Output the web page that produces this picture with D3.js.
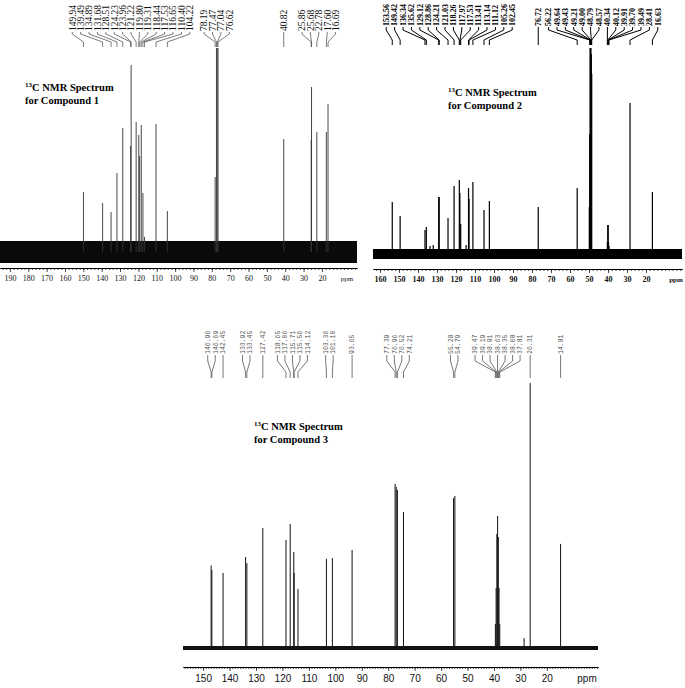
<!DOCTYPE html>
<html>
<head>
<meta charset="utf-8">
<script src="https://cdn.jsdelivr.net/npm/d3@7"></script>
<style>
body { margin: 0; background: #fff; }
svg { display: block; }
</style>
</head>
<body>
<svg id="chart" width="685" height="688"></svg>
<script>
// ---- данные: спектр 1 ----
const ticks1 = [190, 180, 170, 160, 150, 140, 130, 120, 110, 100, 90, 80, 70, 60, 50, 40, 30, 20];
const labels1 = ["149.94", "139.49", "134.89", "131.68", "128.51", "124.23", "123.96", "121.22", "119.80",
  "119.31", "118.44", "117.53", "116.65", "110.40", "104.22", "78.19", "77.47", "77.04", "76.62",
  "40.82", "25.86", "25.68", "22.78", "17.60", "16.69"];
const shifts1 = [149.94, 139.49, 134.89, 131.68, 128.51, 124.23, 123.96, 121.22, 119.80, 119.31, 118.44,
  117.53, 116.65, 110.40, 104.22, 78.19, 77.47, 77.04, 76.62, 40.82, 25.86, 25.68, 22.78, 17.60, 16.69];
const heights1 = [30, 24.5, 20, 39.5, 62, 53, 93.5, 65, 58.5, 48, 63.5, 29.5, 7.5, 64, 20.5, 37.5,
  102, 102, 102, 56.5, 56, 82.5, 60, 60, 74];

// ---- спектр 2 ----
const ticks2 = [160, 150, 140, 130, 120, 110, 100, 90, 80, 70, 60, 50, 40, 30, 20];
const labels2 = ["153.56", "149.42", "136.34", "135.62", "129.12", "128.86", "124.21", "121.03", "118.26",
  "117.97", "117.53", "113.41", "113.14", "111.12", "105.26", "102.45", "76.72", "56.22", "49.64", "49.43",
  "49.21", "49.00", "48.79", "48.57", "40.34", "40.12", "39.91", "39.70", "39.49", "28.41", "16.63"];
const shifts2 = [153.56, 149.42, 136.34, 135.62, 133.7, 132.0, 129.12, 128.86, 124.21, 121.03, 118.26,
  117.97, 117.53, 114.7, 113.41, 113.14, 111.12, 105.26, 102.45, 76.72, 56.22, 49.85, 49.64, 49.43, 49.21,
  49.00, 48.79, 48.57, 40.34, 40.12, 39.91, 39.70, 39.49, 28.41, 16.63];
const heights2 = [26, 19, 12, 13.5, 4, 4.5, 28.5, 28.5, 18, 34, 37, 30.5, 15, 4.5, 33, 27.5, 36, 22, 26.5,
  23.5, 33, 23.5, 60, 103, 103, 103, 100, 90, 6, 14.5, 14.5, 6, 4, 75.5, 31];

// ---- спектр 3 ----
const ticks3 = [150, 140, 130, 120, 110, 100, 90, 80, 70, 60, 50, 40, 30, 20];
const labels3 = ["146.96", "146.69", "142.45", "133.92", "133.45", "127.42", "118.65", "117.06", "115.71",
  "115.56", "114.12", "103.36", "101.10", "93.65", "77.39", "76.96", "76.52", "74.21", "55.28", "54.79",
  "39.47", "39.19", "38.91", "38.63", "38.35", "38.08", "37.81", "26.31", "14.81"];
const shifts3 = [146.96, 146.69, 142.45, 133.92, 133.45, 127.42, 118.65, 117.06, 115.71, 115.56, 114.12,
  103.36, 101.10, 93.65, 77.39, 76.96, 76.52, 74.21, 55.28, 54.79, 39.47, 39.19, 38.91, 38.63, 38.35,
  38.08, 37.81, 28.6, 26.31, 14.81];
const heights3 = [27.5, 26, 25, 30.3, 28.3, 40, 36, 41.3, 32, 25, 19.7, 29.7, 30, 32.7, 54.7, 53.7, 52.7,
  45.3, 50, 50.7, 8, 20, 38, 44, 37, 20, 8, 3.3, 88.3, 34.7];

const svg = d3.select("#chart");

// раздвигаем подписи, чтобы не налезали друг на друга
function spread(targets, gap) {
  let groups = targets.map(t => ({ sum: t, n: 1 }));
  const mid = g => g.sum / g.n;
  let merged = true;
  while (merged) {
    merged = false;
    for (let i = 0; i < groups.length - 1; i++) {
      const a = groups[i], b = groups[i + 1];
      const aEnd = mid(a) + (a.n - 1) / 2 * gap;
      const bStart = mid(b) - (b.n - 1) / 2 * gap;
      if (bStart - aEnd < gap) {
        groups.splice(i, 2, { sum: a.sum + b.sum, n: a.n + b.n });
        merged = true;
        break;
      }
    }
  }
  const out = [];
  groups.forEach(g => {
    for (let k = 0; k < g.n; k++) out.push(mid(g) + (k - (g.n - 1) / 2) * gap);
  });
  return out;
}

function drawPanel(p) {
  const x = d3.scaleLinear().domain(p.domain).range(p.range);
  const y = d3.scaleLinear().domain([0, 100]).range([p.base, p.base - p.span]);
  const g = svg.append("g");

  // шумовая полоса базовой линии
  g.append("rect")
    .attr("x", p.range[0]).attr("width", p.range[1] - p.range[0])
    .attr("y", p.noise[0]).attr("height", p.noise[1] - p.noise[0])
    .attr("fill", p.noiseColor);

  // пики
  g.selectAll("line.peak")
    .data(p.shifts)
    .enter().append("line")
    .attr("class", "peak")
    .attr("x1", d => x(d)).attr("x2", d => x(d))
    .attr("y1", p.base)
    .attr("y2", (d, i) => y(p.heights[i]))
    .attr("stroke", p.peakColor)
    .attr("stroke-width", p.peakWidth);

  // подписи пиков
  const targets = p.labels.map(s => x(+s));
  const lx = spread(targets, p.gap);
  const c = p.conn;
  g.selectAll("path.conn")
    .data(p.labels)
    .enter().append("path")
    .attr("class", "conn")
    .attr("d", (d, i) => `M${lx[i]},${c[0]}L${lx[i]},${c[1]}L${targets[i]},${c[2]}L${targets[i]},${c[3]}`)
    .attr("fill", "none")
    .attr("stroke", p.connColor)
    .attr("stroke-width", p.connWidth);

  g.selectAll("text.lab")
    .data(p.labels)
    .enter().append("text")
    .attr("class", "lab")
    .attr("transform", (d, i) => `translate(${lx[i] + p.labelSize * 0.35},${c[0] - 1}) rotate(-90)`)
    .attr("font-family", p.labelFont)
    .attr("font-weight", p.labelWeight)
    .attr("font-size", p.labelSize)
    .attr("fill", p.labelColor)
    .text(d => d);

  // ось ppm
  const axisG = g.append("g").attr("transform", `translate(0,${p.axisY})`);
  axisG.call(d3.axisBottom(x).tickValues(p.minor).tickSize(2).tickSizeOuter(0).tickFormat(""));
  const major = g.append("g").attr("transform", `translate(0,${p.axisY})`)
    .call(d3.axisBottom(x).tickValues(p.ticks).tickSize(4).tickSizeOuter(0).tickPadding(p.tickPad).tickFormat(d => d));
  g.selectAll(".domain").attr("stroke", "#000").attr("stroke-width", 1);
  g.selectAll(".tick line").attr("stroke", "#000").attr("stroke-width", 0.7);
  major.selectAll("text")
    .attr("font-family", p.tickFont)
    .attr("font-weight", p.tickWeight)
    .attr("font-size", p.tickSize)
    .attr("fill", "#111");
  g.append("text")
    .attr("x", p.ppmX).attr("y", p.axisY + p.tickPad + 4 + p.tickSize * 0.71)
    .attr("text-anchor", "middle")
    .attr("font-family", p.tickFont)
    .attr("font-weight", p.tickWeight)
    .attr("font-size", p.ppmSize)
    .attr("fill", "#111")
    .text("ppm");

  // заголовок
  const t = g.append("text")
    .attr("x", p.title[0]).attr("y", p.title[1])
    .attr("font-family", "Liberation Serif")
    .attr("font-weight", "bold")
    .attr("font-size", 10.5)
    .attr("fill", "#000");
  t.append("tspan").attr("font-size", 7).attr("dy", -4).text("13");
  t.append("tspan").attr("dy", 4).text("C NMR Spectrum");
  g.append("text")
    .attr("x", p.title[0]).attr("y", p.title[1] + 13)
    .attr("font-family", "Liberation Serif")
    .attr("font-weight", "bold")
    .attr("font-size", 10.5)
    .attr("fill", "#000")
    .text(p.compound);
}

drawPanel({
  domain: [195.4, 0.9], range: [0, 357],
  base: 252, span: 200, noise: [241, 263], noiseColor: "#0a0a0a",
  shifts: shifts1, heights: heights1, labels: labels1,
  peakColor: "#333", peakWidth: 0.9,
  gap: 8.4, conn: [32, 34, 42, 47], connColor: "#444", connWidth: 0.7,
  labelFont: "Liberation Serif", labelWeight: "normal", labelSize: 9.5, labelColor: "#111",
  axisY: 268, ticks: ticks1, minor: d3.range(2, 196, 2),
  tickFont: "Liberation Serif", tickWeight: "normal", tickSize: 8, tickPad: 3, ppmX: 347, ppmSize: 7,
  title: [25, 91], compound: "for Compound 1"
});

drawPanel({
  domain: [163.7, 1.05], range: [373, 682],
  base: 254, span: 200, noise: [249, 259], noiseColor: "#000",
  shifts: shifts2, heights: heights2, labels: labels2,
  peakColor: "#000", peakWidth: 1.2,
  gap: 8.4, conn: [27, 30, 40, 45], connColor: "#000", connWidth: 1,
  labelFont: "Liberation Serif", labelWeight: "bold", labelSize: 8, labelColor: "#000",
  axisY: 269, ticks: ticks2, minor: d3.range(2, 164, 2),
  tickFont: "Liberation Serif", tickWeight: "bold", tickSize: 8, tickPad: 3, ppmX: 676, ppmSize: 7,
  title: [448, 96], compound: "for Compound 2"
});

drawPanel({
  domain: [157.6, 0.66], range: [183, 598],
  base: 648, span: 300, noise: [646, 650], noiseColor: "#111",
  shifts: shifts3, heights: heights3, labels: labels3,
  peakColor: "#111", peakWidth: 1,
  gap: 7.5, conn: [355, 361, 372, 378], connColor: "#555", connWidth: 0.8,
  labelFont: "Liberation Mono", labelWeight: "normal", labelSize: 6.5, labelColor: "#555",
  axisY: 667, ticks: ticks3, minor: d3.range(1, 158, 1),
  tickFont: "Liberation Sans", tickWeight: "normal", tickSize: 10, tickPad: 4, ppmX: 587, ppmSize: 10,
  title: [254, 430], compound: "for Compound 3"
});
</script>
</body>
</html>
